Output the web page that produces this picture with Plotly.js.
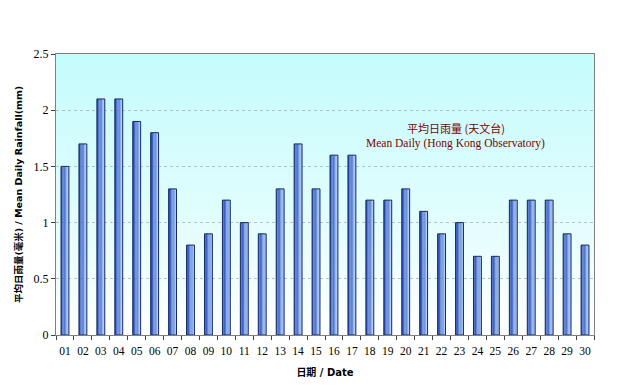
<!DOCTYPE html>
<html><head><meta charset="utf-8">
<script src="https://cdn.plot.ly/plotly-3.0.1.min.js"></script>
<style>html,body{margin:0;padding:0;background:#fff}#c{width:635px;height:390px}</style>
</head><body><div id="c"></div>
<script>
const dates = ['01','02','03','04','05','06','07','08','09','10','11','12','13','14','15','16','17','18','19','20','21','22','23','24','25','26','27','28','29','30'];
const rainfall = [1.5,1.7,2.1,2.1,1.9,1.8,1.3,0.8,0.9,1.2,1.0,0.9,1.3,1.7,1.3,1.6,1.6,1.2,1.2,1.3,1.1,0.9,1.0,0.7,0.7,1.2,1.2,1.2,0.9,0.8];
const yTicks = [0,0.5,1,1.5,2,2.5];
const yTickText = ['0','0.5','1','1.5','2','2.5'];

const barW = 0.44;
const strips = ['#2a50b2','#3a62c4','#5078d0','#6a90dc','#88aae6','#a6c0ee'];
const traces = [];
strips.forEach((col,i)=>{
  const w = barW/strips.length;
  traces.push({type:'bar', x:dates, y:rainfall, width:w, offset:-barW/2 + i*w,
    marker:{color:col, line:{width:0}}, hoverinfo:'skip', showlegend:false});
});
traces.push({type:'bar', x:dates, y:rainfall, width:barW, offset:-barW/2,
  marker:{color:'rgba(0,0,0,0)', line:{color:'#182a66', width:1}}, showlegend:false, name:'Mean Daily'});

const grad = 'data:image/svg+xml;utf8,' + encodeURIComponent('<svg xmlns="http://www.w3.org/2000/svg" width="100" height="100" preserveAspectRatio="none"><defs><linearGradient id="g" x1="0" y1="0" x2="0" y2="1"><stop offset="0" stop-color="#c4fcfc"/><stop offset="0.55" stop-color="#e0fdfd"/><stop offset="1" stop-color="#ffffff"/></linearGradient></defs><rect width="100" height="100" fill="url(#g)"/></svg>');

const layout = {
  width:635, height:390,
  margin:{l:56, r:41, t:54, b:55},
  paper_bgcolor:'#ffffff', plot_bgcolor:'rgba(0,0,0,0)',
  barmode:'overlay',
  images:[{source:grad, xref:'paper', yref:'paper', x:0, y:1, sizex:1, sizey:1, sizing:'stretch', layer:'below'}],
  xaxis:{type:'category', showline:true, linecolor:'#808080', linewidth:1, mirror:true,
    ticks:'outside', tickson:'boundaries', ticklen:4, tickcolor:'#404040', tickangle:0,
    ticklabelstandoff:5,
    tickfont:{family:'Liberation Serif, serif', size:11.5, color:'#000'},
    showgrid:false,
    title:{text:'<b>日期 / Date</b>', font:{family:'DejaVu Sans, Noto Sans CJK TC, sans-serif', size:10, color:'#000'}, standoff:13}},
  yaxis:{range:[0,2.5], tickvals:yTicks, ticktext:yTickText, showline:true, linecolor:'#808080', mirror:true,
    ticks:'outside', ticklen:4, tickcolor:'#404040',
    showgrid:true, gridcolor:'#b4c4c4', griddash:'dot', gridwidth:1, zeroline:false,
    tickfont:{family:'Liberation Serif, serif', size:12, color:'#000'},
    title:{text:'<b>平均日雨量(毫米) / Mean Daily Rainfall(mm)</b>', font:{family:'DejaVu Sans, Noto Sans CJK TC, sans-serif', size:9.5, color:'#000'}, standoff:9}},
  annotations:[
    {text:'平均日雨量 (天文台)', xref:'paper', yref:'paper', x:0.743, y:0.737, xanchor:'center', yanchor:'middle', showarrow:false,
     font:{family:'Noto Sans CJK TC, sans-serif', size:11, color:'#800000'}},
    {text:'Mean Daily (Hong Kong Observatory)', xref:'paper', yref:'paper', x:0.743, y:0.683, xanchor:'center', yanchor:'middle', showarrow:false,
     font:{family:'Liberation Serif, serif', size:11.5, color:'#800000'}}
  ]
};
Plotly.newPlot('c', traces, layout, {displayModeBar:false, staticPlot:true});
</script></body></html>
